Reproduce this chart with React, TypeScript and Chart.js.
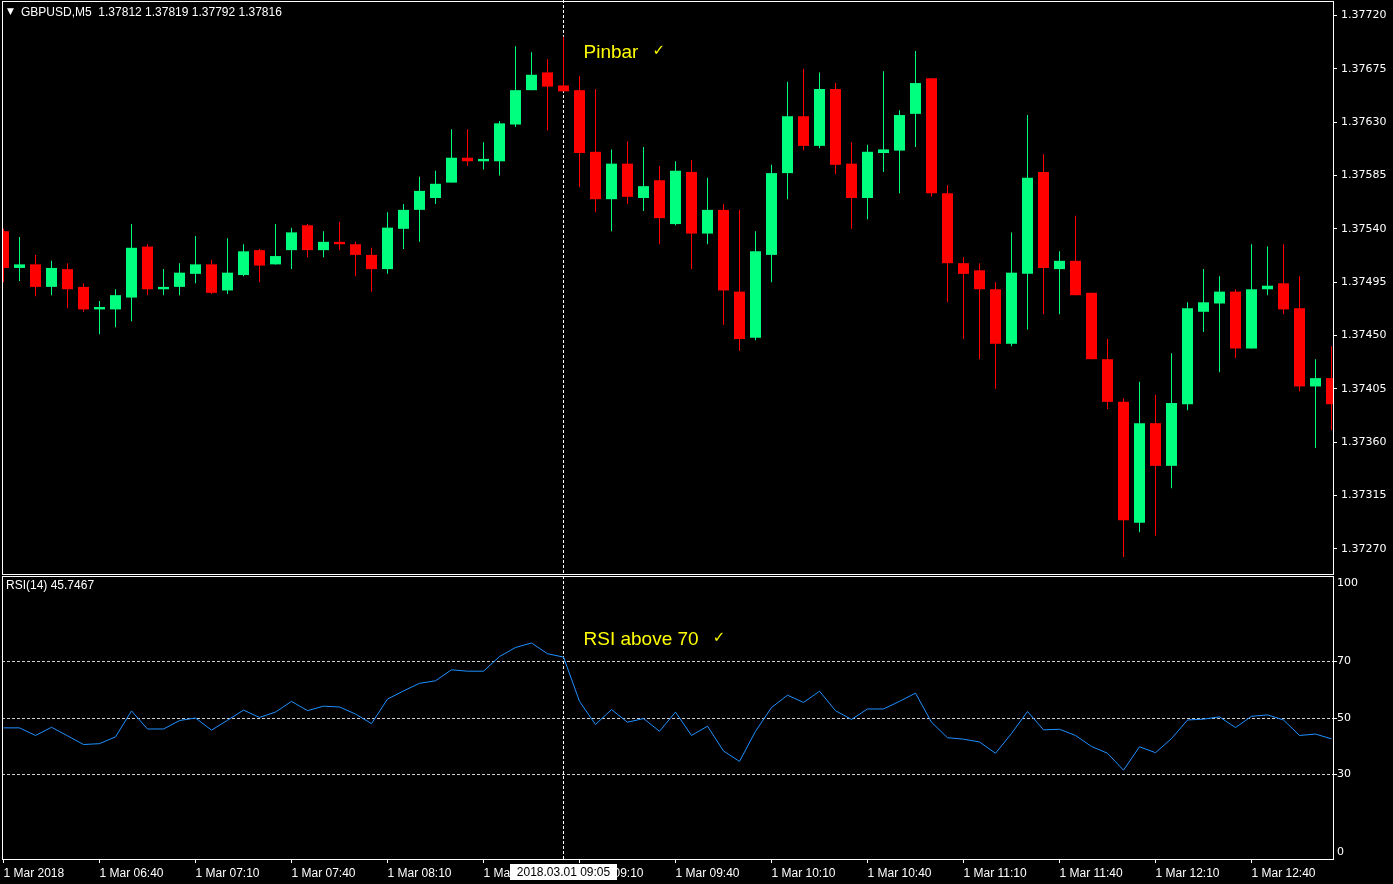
import React, { useEffect, useRef } from 'react';
import { Chart, registerables } from 'chart.js';

Chart.register(...registerables);

// ---------- data ----------
const opens = [
  1.37538, 1.37507, 1.37510, 1.37491, 1.37506, 1.37491, 1.37472, 1.37472, 1.37482, 1.37525,
  1.37489, 1.37491, 1.37502, 1.37510, 1.37488, 1.37501, 1.37522, 1.37510, 1.37522, 1.37543,
  1.37522, 1.37529, 1.37527, 1.37518, 1.37506, 1.37540, 1.37556, 1.37566, 1.37579, 1.37600,
  1.37597, 1.37597, 1.37628, 1.37657, 1.37672, 1.37661, 1.37657, 1.37605, 1.37565, 1.37595,
  1.37566, 1.37581, 1.37544, 1.37588, 1.37536, 1.37556, 1.37487, 1.37448, 1.37518, 1.37587,
  1.37635, 1.37610, 1.37658, 1.37595, 1.37566, 1.37604, 1.37606, 1.37637, 1.37667, 1.37570,
  1.37511, 1.37505, 1.37489, 1.37443, 1.37502, 1.37588, 1.37506, 1.37513, 1.37486, 1.37430,
  1.37394, 1.37292, 1.37376, 1.37340, 1.37392, 1.37470, 1.37477, 1.37487, 1.37439, 1.37489,
  1.37494, 1.37473, 1.37407, 1.37414,
];
const highs = [
  1.37540, 1.37533, 1.37518, 1.37513, 1.37511, 1.37494, 1.37479, 1.37489, 1.37544, 1.37527,
  1.37506, 1.37511, 1.37534, 1.37514, 1.37532, 1.37527, 1.37523, 1.37544, 1.37541, 1.37544,
  1.37538, 1.37546, 1.37529, 1.37524, 1.37554, 1.37561, 1.37584, 1.37589, 1.37624, 1.37624,
  1.37613, 1.37631, 1.37694, 1.37689, 1.37683, 1.37702, 1.37669, 1.37658, 1.37607, 1.37614,
  1.37609, 1.37593, 1.37597, 1.37598, 1.37583, 1.37561, 1.37556, 1.37538, 1.37594, 1.37664,
  1.37675, 1.37672, 1.37663, 1.37613, 1.37611, 1.37673, 1.37640, 1.37690, 1.37667, 1.37577,
  1.37516, 1.37511, 1.37495, 1.37537, 1.37636, 1.37603, 1.37521, 1.37551, 1.37486, 1.37447,
  1.37397, 1.37411, 1.37400, 1.37435, 1.37478, 1.37506, 1.37500, 1.37489, 1.37527, 1.37525,
  1.37527, 1.37500, 1.37430, 1.37441,
];
const lows = [
  1.37495, 1.37496, 1.37483, 1.37484, 1.37473, 1.37470, 1.37451, 1.37457, 1.37462, 1.37484,
  1.37484, 1.37484, 1.37494, 1.37485, 1.37485, 1.37500, 1.37495, 1.37510, 1.37506, 1.37516,
  1.37516, 1.37522, 1.37500, 1.37487, 1.37502, 1.37523, 1.37529, 1.37561, 1.37579, 1.37593,
  1.37590, 1.37585, 1.37626, 1.37657, 1.37623, 1.37656, 1.37575, 1.37554, 1.37538, 1.37561,
  1.37555, 1.37527, 1.37543, 1.37506, 1.37527, 1.37459, 1.37437, 1.37446, 1.37495, 1.37565,
  1.37606, 1.37608, 1.37586, 1.37540, 1.37548, 1.37588, 1.37570, 1.37609, 1.37567, 1.37478,
  1.37447, 1.37430, 1.37405, 1.37441, 1.37455, 1.37468, 1.37468, 1.37484, 1.37430, 1.37388,
  1.37263, 1.37284, 1.37281, 1.37321, 1.37387, 1.37453, 1.37419, 1.37431, 1.37439, 1.37484,
  1.37468, 1.37403, 1.37355, 1.37370,
];
const closes = [
  1.37507, 1.37510, 1.37491, 1.37507, 1.37489, 1.37472, 1.37474, 1.37484, 1.37524, 1.37489,
  1.37491, 1.37503, 1.37510, 1.37486, 1.37503, 1.37521, 1.37509, 1.37517, 1.37537, 1.37522,
  1.37529, 1.37527, 1.37518, 1.37506, 1.37541, 1.37556, 1.37572, 1.37578, 1.37600, 1.37597,
  1.37599, 1.37629, 1.37657, 1.37670, 1.37660, 1.37656, 1.37604, 1.37565, 1.37595, 1.37567,
  1.37576, 1.37549, 1.37589, 1.37536, 1.37556, 1.37488, 1.37447, 1.37521, 1.37587, 1.37635,
  1.37610, 1.37658, 1.37594, 1.37566, 1.37605, 1.37607, 1.37636, 1.37663, 1.37570, 1.37511,
  1.37502, 1.37489, 1.37443, 1.37503, 1.37583, 1.37507, 1.37513, 1.37484, 1.37430, 1.37394,
  1.37294, 1.37376, 1.37340, 1.37393, 1.37473, 1.37478, 1.37487, 1.37439, 1.37489, 1.37492,
  1.37472, 1.37407, 1.37414, 1.37392,
];
const rsiValues = [
  46.5, 46.5, 43.8, 46.7, 43.7, 40.6, 40.9, 43.3, 52.5, 46.1,
  46.1, 49.1, 50.0, 45.7, 49.2, 52.8, 50.2, 52.1, 55.9, 52.6,
  54.2, 53.9, 51.4, 48.0, 56.7, 59.6, 62.3, 63.2, 67.1, 66.6,
  66.6, 71.8, 75.0, 76.6, 72.8, 71.6, 55.9, 47.7, 53.0, 48.5,
  49.8, 45.3, 52.1, 43.8, 47.1, 38.3, 34.6, 45.3, 53.7, 58.1,
  55.5, 59.5, 52.6, 49.5, 53.2, 53.2, 55.9, 58.8, 48.5, 43.0,
  42.5, 41.5, 37.5, 44.5, 52.3, 45.8, 46.0, 43.8, 39.9, 37.5,
  31.5, 39.8, 37.7, 42.7, 49.3, 49.6, 50.4, 46.6, 50.6, 51.1,
  49.3, 43.8, 44.3, 42.6,
];
const priceTicks = [1.3727, 1.37315, 1.3736, 1.37405, 1.3745, 1.37495, 1.3754, 1.37585, 1.3763, 1.37675, 1.3772];
const rsiTicks = [0, 30, 50, 70, 100];
const rsiLevels = [30, 50, 70];
const timeTickIndex = [0, 6, 12, 18, 24, 30, 36, 42, 48, 54, 60, 66, 72, 78];
const timeLabels = [
  '1 Mar 2018', '1 Mar 06:40', '1 Mar 07:10', '1 Mar 07:40', '1 Mar 08:10', '1 Mar 08:40', '1 Mar 09:10',
  '1 Mar 09:40', '1 Mar 10:10', '1 Mar 10:40', '1 Mar 11:10', '1 Mar 11:40', '1 Mar 12:10', '1 Mar 12:40',
];
const headerText = 'GBPUSD,M5  1.37812 1.37819 1.37792 1.37816';
const rsiTitle = 'RSI(14) 45.7467';
const crosshairIndex = 35;
const crosshairLabel = '2018.03.01 09:05';
const pinbarNote = { text: 'Pinbar', index: 36.25, price: 1.37684 };
const rsiNote = { text: 'RSI above 70', index: 36.25, value: 75.9 };

// ---------- view settings ----------
const X_MIN = -0.09375;
const X_MAX = 83.15625;
const PRICE_MIN = 1.3724789;
const PRICE_MAX = 1.3773224;
const BULL = '#00FF7F';
const BEAR = '#FF0000';
const AXIS_FONT = 'Liberation Sans';
const SCALE_FONT = 'DejaVu Sans';

function drawCrosshair(chart: any) {
  const { ctx, chartArea: a, scales } = chart;
  const x = scales.x.getPixelForValue(crosshairIndex);
  ctx.save();
  ctx.strokeStyle = '#ffffff';
  ctx.lineWidth = 1;
  ctx.setLineDash([3, 2]);
  ctx.beginPath();
  ctx.moveTo(x, 0);
  ctx.lineTo(x, a.bottom);
  ctx.stroke();
  ctx.restore();
}

function drawNote(ctx: any, text: string, x: number, y: number) {
  ctx.save();
  ctx.fillStyle = '#FFFF00';
  ctx.textBaseline = 'alphabetic';
  ctx.textAlign = 'left';
  ctx.font = `19px "${AXIS_FONT}"`;
  ctx.fillText(text, x, y);
  const w = ctx.measureText(text).width;
  ctx.font = `bold 15px "${SCALE_FONT}"`;
  ctx.fillText('\u2713', x + w + 14, y - 3);
  ctx.restore();
}

const pricePlugin = {
  id: 'pricePanel',
  beforeDatasetsDraw(chart: any) {
    drawCrosshair(chart);
  },
  afterDraw(chart: any) {
    const { ctx, chartArea: a, scales } = chart;
    ctx.save();
    ctx.strokeStyle = '#ffffff';
    ctx.lineWidth = 1;
    ctx.setLineDash([]);
    ctx.strokeRect(a.left + 0.5, a.top + 0.5, a.right - a.left - 1, a.bottom - a.top - 1);
    ctx.fillStyle = '#ffffff';
    ctx.textBaseline = 'middle';
    ctx.textAlign = 'left';
    ctx.font = `9px "${SCALE_FONT}"`;
    ctx.fillText('\u25BC', 7, 12);
    ctx.font = `12px "${AXIS_FONT}"`;
    ctx.fillText(headerText, 21, 13);
    ctx.restore();
    drawNote(ctx, pinbarNote.text, scales.x.getPixelForValue(pinbarNote.index), scales.y.getPixelForValue(pinbarNote.price));
  },
};

const rsiPlugin = {
  id: 'rsiPanel',
  beforeDatasetsDraw(chart: any) {
    drawCrosshair(chart);
  },
  afterDraw(chart: any) {
    const { ctx, chartArea: a, scales } = chart;
    ctx.save();
    ctx.strokeStyle = '#ffffff';
    ctx.lineWidth = 1;
    ctx.setLineDash([]);
    ctx.strokeRect(a.left + 0.5, a.top - 0.5, a.right - a.left - 1, a.bottom - a.top + 1);
    ctx.fillStyle = '#ffffff';
    ctx.textBaseline = 'middle';
    ctx.textAlign = 'left';
    ctx.font = `12px "${AXIS_FONT}"`;
    ctx.fillText(rsiTitle, 6, 10);
    // crosshair time label
    const cx = scales.x.getPixelForValue(crosshairIndex);
    const tw = ctx.measureText(crosshairLabel).width;
    const bw = Math.round(tw + 14);
    ctx.fillStyle = '#ffffff';
    ctx.fillRect(Math.round(cx - bw / 2), a.bottom + 5, bw, 16);
    ctx.fillStyle = '#000000';
    ctx.textAlign = 'center';
    ctx.fillText(crosshairLabel, cx, a.bottom + 13.5);
    ctx.restore();
    drawNote(ctx, rsiNote.text, scales.x.getPixelForValue(rsiNote.index), scales.y.getPixelForValue(rsiNote.value));
  },
};

export default function App() {
  const priceRef = useRef<HTMLCanvasElement>(null);
  const rsiRef = useRef<HTMLCanvasElement>(null);

  useEffect(() => {
    const idx = opens.map((_, i) => i);
    const colors = idx.map((i) => (closes[i] >= opens[i] ? BULL : BEAR));

    const priceChart = new Chart(priceRef.current as HTMLCanvasElement, {
      type: 'bar',
      data: {
        datasets: [
          {
            label: 'body',
            data: idx.map((i) => ({ x: i, y: [opens[i], closes[i]] })) as any,
            backgroundColor: colors,
            barThickness: 11,
            grouped: false,
            minBarLength: 1,
            borderWidth: 0,
            inflateAmount: 0,
            order: 0,
          } as any,
          {
            label: 'wick',
            data: idx.map((i) => ({ x: i, y: [lows[i], highs[i]] })) as any,
            backgroundColor: colors,
            barThickness: 1,
            grouped: false,
            borderWidth: 0,
            inflateAmount: 0,
            order: 1,
          } as any,
        ],
      },
      options: {
        animation: false,
        responsive: false,
        devicePixelRatio: 1,
        events: [],
        layout: { padding: { left: 2, top: 1, right: 0, bottom: 1 } },
        plugins: { legend: { display: false }, tooltip: { enabled: false } },
        scales: {
          x: { type: 'linear', min: X_MIN, max: X_MAX, display: false, offset: false },
          y: {
            position: 'right',
            min: PRICE_MIN,
            max: PRICE_MAX,
            afterBuildTicks: (s: any) => {
              s.ticks = priceTicks.map((v) => ({ value: v }));
            },
            afterFit: (s: any) => {
              s.width = 59;
              s.paddingTop = 0;
              s.paddingBottom = 0;
            },
            grid: { drawOnChartArea: false, drawTicks: true, tickLength: 3, tickColor: '#ffffff', color: '#ffffff' },
            border: { display: false },
            ticks: {
              color: '#ffffff',
              autoSkip: false,
              padding: 4,
              font: { family: SCALE_FONT, size: 11 },
              callback: (v: any) => Number(v).toFixed(5),
            },
          },
        },
      } as any,
      plugins: [pricePlugin],
    });

    const levelColor = (c: any) => (c.tick && rsiLevels.includes(c.tick.value) ? '#D0D0D0' : 'rgba(0,0,0,0)');
    const rsiChart = new Chart(rsiRef.current as HTMLCanvasElement, {
      type: 'line',
      data: {
        datasets: [
          {
            label: 'RSI',
            data: idx.map((i) => ({ x: i, y: rsiValues[i] })),
            borderColor: '#1E90FF',
            borderWidth: 1,
            pointRadius: 0,
            tension: 0,
            fill: false,
          },
        ],
      },
      options: {
        animation: false,
        responsive: false,
        devicePixelRatio: 1,
        events: [],
        layout: { padding: { left: 2, top: 1, right: 0, bottom: 0 } },
        plugins: { legend: { display: false }, tooltip: { enabled: false } },
        scales: {
          x: {
            type: 'linear',
            min: X_MIN,
            max: X_MAX,
            position: 'bottom',
            offset: false,
            afterBuildTicks: (s: any) => {
              s.ticks = timeTickIndex.map((v) => ({ value: v }));
            },
            afterFit: (s: any) => {
              s.height = 25;
              s.paddingLeft = 0;
              s.paddingRight = 0;
            },
            grid: { drawOnChartArea: false, drawTicks: true, tickLength: 4, tickColor: '#ffffff', color: '#ffffff' },
            border: { display: false },
            ticks: {
              color: '#ffffff',
              autoSkip: false,
              maxRotation: 0,
              minRotation: 0,
              align: 'start',
              padding: 3,
              font: { family: AXIS_FONT, size: 12 },
              callback: (v: any) => {
                const k = timeTickIndex.indexOf(Number(v));
                return k >= 0 ? timeLabels[k] : '';
              },
            },
          },
          y: {
            position: 'right',
            min: 0,
            max: 100,
            afterBuildTicks: (s: any) => {
              s.ticks = rsiTicks.map((v) => ({ value: v }));
            },
            afterFit: (s: any) => {
              s.width = 59;
              s.paddingTop = 0;
              s.paddingBottom = 0;
            },
            grid: {
              drawOnChartArea: true,
              drawTicks: true,
              tickLength: 3,
              color: levelColor,
              tickColor: (c: any) => (c.tick && rsiLevels.includes(c.tick.value) ? '#ffffff' : 'rgba(0,0,0,0)'),
              lineWidth: 1,
            },
            border: { display: false, dash: [3, 2] },
            ticks: {
              color: '#ffffff',
              autoSkip: false,
              padding: 0,
              font: { family: SCALE_FONT, size: 11 },
              callback: (v: any) => {
                const n = Number(v);
                if (n === 100) return ['', '100'];
                if (n === 0) return ['0', ''];
                return String(n);
              },
            },
          },
        },
      } as any,
      plugins: [rsiPlugin],
    });

    return () => {
      priceChart.destroy();
      rsiChart.destroy();
    };
  }, []);

  return (
    <div style={{ position: 'fixed', left: 0, top: 0, width: 1393, height: 884, background: '#000000', overflow: 'hidden' }}>
      <canvas ref={priceRef} width={1393} height={576} style={{ position: 'absolute', left: 0, top: 0, display: 'block' }} />
      <canvas ref={rsiRef} width={1393} height={308} style={{ position: 'absolute', left: 0, top: 576, display: 'block' }} />
    </div>
  );
}
